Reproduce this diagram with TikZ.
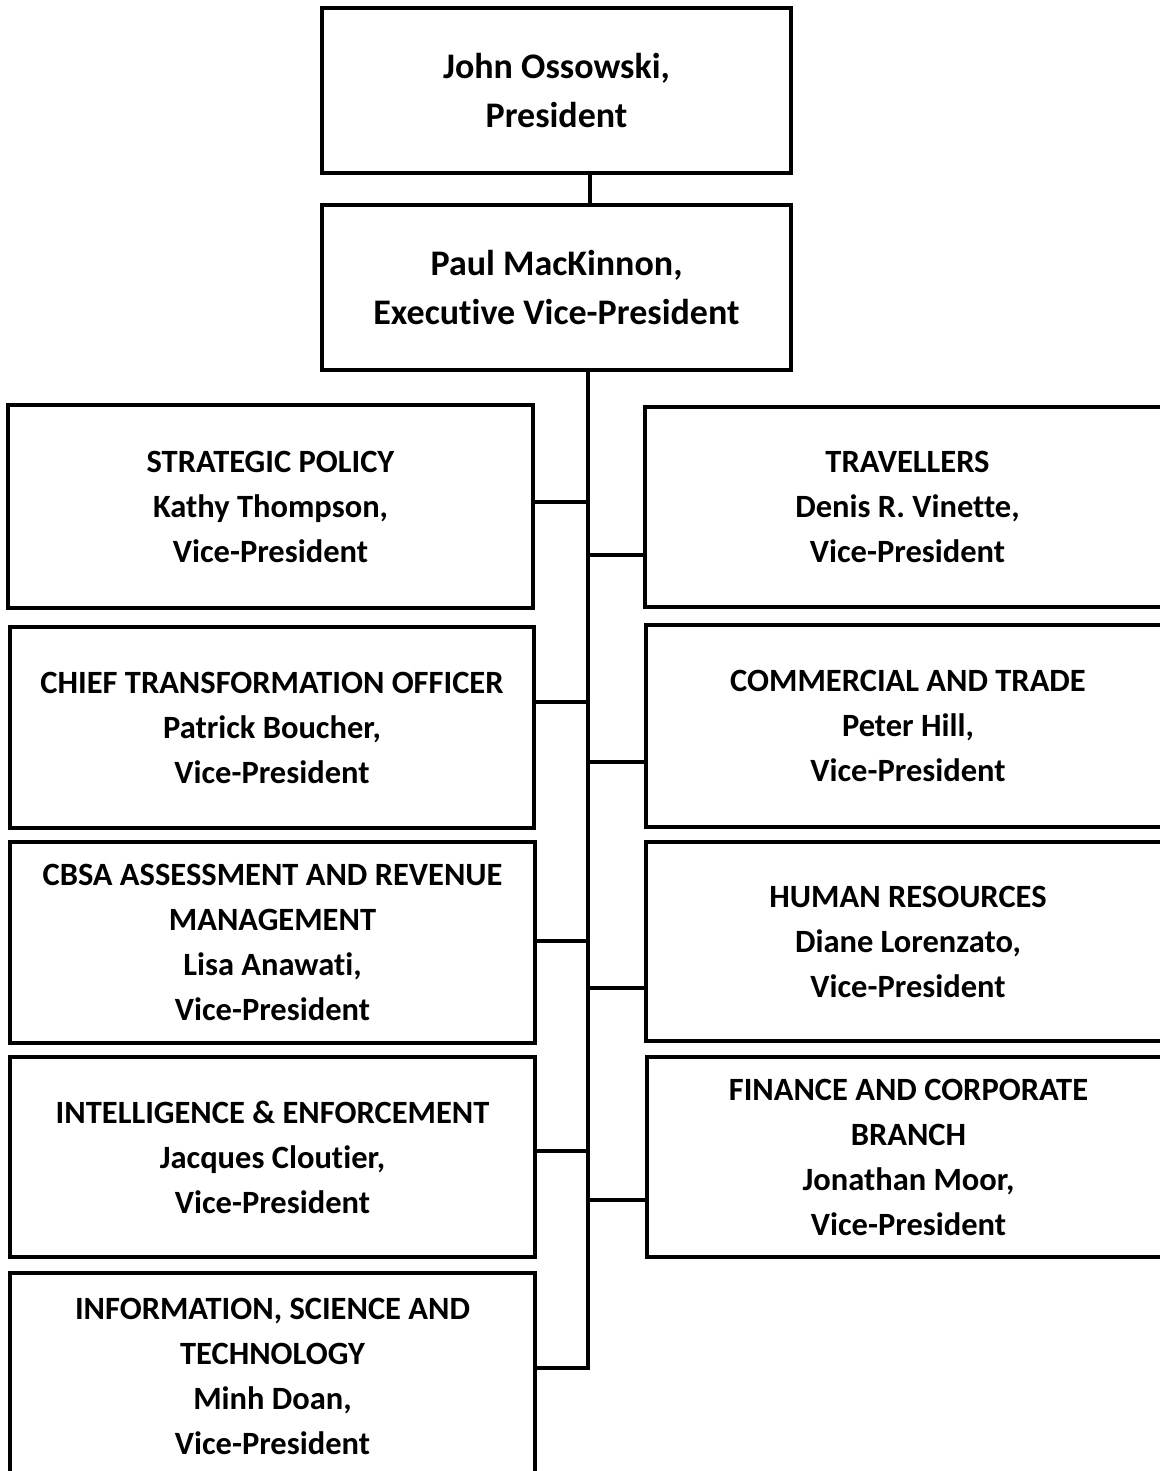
\documentclass[tikz,border=0pt]{standalone}
\usepackage{fontspec}
\setmainfont{Carlito}[Ligatures=NoCommon]
\begin{document}
\begin{tikzpicture}[x=1pt,y=-1pt,
  box/.style={draw, line width=4pt, rectangle, inner sep=0pt, align=center,
    font=\bfseries\fontsize{32.5}{45}\selectfont},
  topbox/.style={box, font=\bfseries\fontsize{36}{49}\selectfont},
  wire/.style={line width=4pt}]
\useasboundingbox[fill=white] (0,0) rectangle (1159,1471);
\node[topbox, minimum width=469pt, minimum height=165pt] (pres) at (556.5,90.5) {John Ossowski,\\President};
\node[topbox, minimum width=469pt, minimum height=165pt] (evp) at (556.5,287.5) {Paul MacKinnon,\\Executive Vice-President};
\node[box, minimum width=525pt, minimum height=203pt] (l1) at (270.5,506.5) {STRATEGIC POLICY\\Kathy Thompson,\\Vice-President};
\node[box, minimum width=524pt, minimum height=201pt] (l2) at (272,727.5) {CHIEF TRANSFORMATION OFFICER\\Patrick Boucher,\\Vice-President};
\node[box, minimum width=525pt, minimum height=201pt] (l3) at (272.5,942.5) {CBSA ASSESSMENT AND REVENUE\\MANAGEMENT\\Lisa Anawati,\\Vice-President};
\node[box, minimum width=525pt, minimum height=200pt] (l4) at (272.5,1157) {INTELLIGENCE \& ENFORCEMENT\\Jacques Cloutier,\\Vice-President};
\node[box, minimum width=525pt, minimum height=206pt] (l5) at (272.5,1376) {INFORMATION, SCIENCE AND\\TECHNOLOGY\\Minh Doan,\\Vice-President};
\node[box, minimum width=525pt, minimum height=200pt] (r1) at (907.5,507) {TRAVELLERS\\Denis R. Vinette,\\Vice-President};
\node[box, minimum width=524pt, minimum height=202pt] (r2) at (908,726) {COMMERCIAL AND TRADE\\Peter Hill,\\Vice-President};
\node[box, minimum width=524pt, minimum height=199pt] (r3) at (908,941.5) {HUMAN RESOURCES\\Diane Lorenzato,\\Vice-President};
\node[box, minimum width=523pt, minimum height=200pt] (r4) at (908.5,1157) {FINANCE AND CORPORATE\\BRANCH\\Jonathan Moor,\\Vice-President};
% trunk coordinates
\coordinate (tl1) at (588,502);
\coordinate (tr1) at (588,555);
\coordinate (tl2) at (588,702);
\coordinate (tr2) at (588,762);
\coordinate (tl3) at (588,941);
\coordinate (tr3) at (588,988);
\coordinate (tl4) at (588,1151);
\coordinate (tr4) at (588,1200);
\coordinate (tl5) at (588,1368);
\draw[wire] (pres.south -| 590,0) -- (evp.north -| 590,0);
\draw[wire] (evp.south -| tl1) -- ([yshift=-2pt]tl5);
\draw[wire] (l1.east |- tl1) -- (tl1);
\draw[wire] (l2.east |- tl2) -- (tl2);
\draw[wire] (l3.east |- tl3) -- (tl3);
\draw[wire] (l4.east |- tl4) -- (tl4);
\draw[wire] (l5.east |- tl5) -- ([xshift=2pt]tl5);
\draw[wire] (tr1) -- (r1.west |- tr1);
\draw[wire] (tr2) -- (r2.west |- tr2);
\draw[wire] (tr3) -- (r3.west |- tr3);
\draw[wire] (tr4) -- (r4.west |- tr4);
\end{tikzpicture}
\end{document}
